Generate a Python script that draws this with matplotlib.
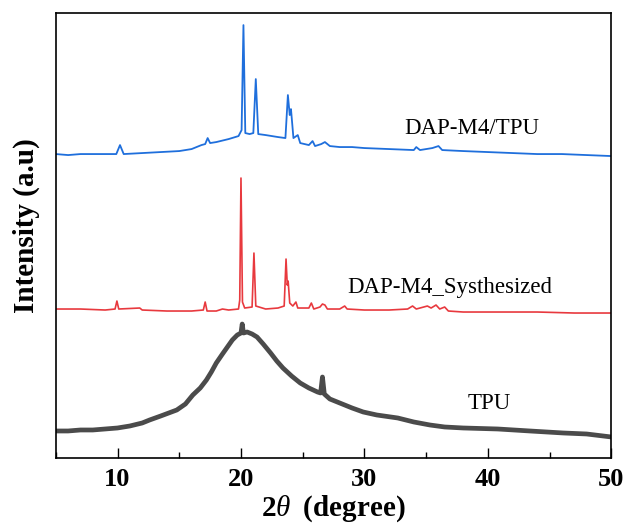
import numpy as np
import matplotlib
matplotlib.use("Agg")
import matplotlib.pyplot as plt
from matplotlib.ticker import MultipleLocator

plt.rcParams['font.family'] = ['Liberation Serif', 'DejaVu Serif']
plt.rcParams['mathtext.fontset'] = 'custom'
plt.rcParams['mathtext.rm'] = 'Liberation Serif'
plt.rcParams['mathtext.it'] = 'Liberation Serif:italic'
plt.rcParams['mathtext.bf'] = 'Liberation Serif:bold'

# DAP-M4/TPU (blue)
blend_2theta = [5.0, 6.0, 7.0, 8.0, 9.0, 9.9, 10.2, 10.5, 12.0, 13.5, 15.0, 16.0,
                16.8, 17.1, 17.3, 17.5, 18.0, 19.0, 19.8, 20.05, 20.2, 20.35, 20.7,
                21.0, 21.2, 21.4, 22.0, 23.0, 23.6, 23.8, 23.95, 24.05, 24.25, 24.6,
                24.8, 25.5, 25.8, 26.0, 26.5, 26.8, 27.2, 28.0, 29.0, 30.0, 32.0,
                34.0, 34.2, 34.5, 35.0, 35.5, 36.0, 36.3, 38.0, 40.0, 42.0, 44.0,
                46.0, 48.0, 50.0]
blend_int = [304, 303, 304, 304, 304, 304, 313, 304, 305, 306, 307, 309,
             313, 314, 320, 315, 316, 319, 322, 328, 433, 325, 324,
             325, 379, 324, 323, 321, 320, 363, 343, 349, 320, 323,
             315, 313, 317, 312, 314, 316, 312, 311, 311, 310, 309,
             308, 311, 308, 309, 310, 312, 308, 307, 306, 305, 304,
             304, 303, 302]

# DAP-M4 synthesized (red)
dap_2theta = [5.0, 7.0, 9.0, 9.8, 9.95, 10.1, 11.8, 12.0, 14.0, 16.0, 16.95, 17.1,
              17.25, 18.0, 18.5, 19.0, 19.8, 19.9, 20.0, 20.12, 20.3, 20.9, 21.05,
              21.2, 22.0, 23.0, 23.5, 23.65, 23.75, 23.82, 23.95, 24.2, 24.45, 24.6,
              25.5, 25.7, 25.9, 26.4, 26.6, 26.8, 27.0, 28.0, 28.4, 28.6, 30.0,
              32.0, 33.5, 33.9, 34.2, 35.1, 35.4, 35.8, 36.1, 36.5, 36.8, 38.0,
              40.0, 44.0, 47.0, 50.0]
dap_int = [149, 149, 148, 149, 157, 149, 150, 148, 147, 147, 148, 156,
           147, 147, 149, 148, 149, 158, 280, 156, 150, 151, 205,
           152, 149, 150, 152, 199, 173, 177, 155, 152, 156, 150,
           150, 155, 149, 151, 154, 153, 149, 149, 152, 149, 148,
           148, 149, 152, 149, 152, 150, 153, 149, 151, 147, 146,
           146, 146, 145, 145]

# TPU (grey)
tpu_2theta = [5.0, 6.0, 7.0, 8.0, 9.0, 10.0, 11.0, 12.0, 12.6, 13.5, 14.8, 15.5,
              16.1, 16.7, 17.2, 17.6, 18.0, 18.5, 18.9, 19.3, 19.7, 20.0, 20.1,
              20.2, 20.5, 20.9, 21.3, 21.8, 22.4, 22.9, 23.4, 24.1, 24.8, 25.5,
              26.2, 26.45, 26.6, 26.75, 27.2, 28.0, 29.0, 29.9, 31.0, 32.7, 34.0,
              35.3, 36.5, 38.0, 40.8, 43.4, 46.1, 48.0, 50.0]
tpu_int = [27, 27, 28, 28, 29, 30, 32, 35, 38, 42, 48, 54,
           63, 70, 78, 86, 95, 104, 111, 118, 123, 125, 134,
           125, 126, 124, 121, 114, 105, 97, 90, 82, 75, 70,
           66, 65, 81, 64, 59, 55, 50, 46, 43, 40, 36,
           33, 31, 30, 29, 27, 25, 24, 21]

fig = plt.figure(figsize=(6.27, 5.24), dpi=100)
ax = fig.add_axes([0.089, 0.126, 0.886, 0.849])

ax.plot(tpu_2theta, tpu_int, color='#4b4b4b', lw=3.4)
ax.plot(dap_2theta, dap_int, color='#e8393e', lw=1.2)
ax.plot(blend_2theta, blend_int, color='#1f6fdc', lw=1.3)

ax.text(38.7, 330, 'DAP-M4/TPU', fontsize=16.5, ha='center', va='center')
ax.text(36.95, 171, 'DAP-M4_Systhesized', fontsize=16.5, ha='center', va='center')
ax.text(40.1, 54, 'TPU', fontsize=16.5, ha='center', va='center')

ax.set_xlim(5, 50)
ax.set_ylim(0, 445)
ax.xaxis.set_major_locator(MultipleLocator(10))
ax.xaxis.set_minor_locator(MultipleLocator(5))
ax.set_yticks([])
ax.tick_params(axis='x', which='major', direction='in', length=7, width=1, labelsize=19, pad=7)
ax.tick_params(axis='x', which='minor', direction='in', length=4, width=1)
for lab in ax.get_xticklabels():
    lab.set_fontweight('bold')
for sp in ax.spines.values():
    sp.set_linewidth(1.2)

ax.set_xlabel(r'2$\theta\;$ (degree)', fontsize=21, fontweight='bold')
ax.xaxis.set_label_coords(0.5, -0.08)
ax.set_ylabel('Intensity (a.u)', fontsize=21, fontweight='bold')
ax.yaxis.set_label_coords(-0.029, 0.522)

fig.savefig('out.png', dpi=100)
